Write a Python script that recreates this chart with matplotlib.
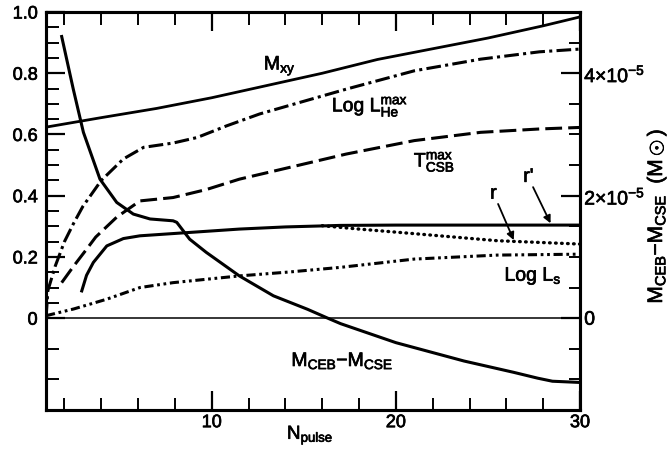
import numpy as np
import matplotlib
matplotlib.use('Agg')
import matplotlib.pyplot as plt
import matplotlib.patheffects as pe
from matplotlib.ticker import FixedLocator

plt.rcParams['font.family'] = ['Liberation Sans', 'DejaVu Sans']
plt.rcParams['mathtext.fontset'] = 'custom'
plt.rcParams['mathtext.rm'] = 'Liberation Sans'
plt.rcParams['mathtext.it'] = 'Liberation Sans:italic'
plt.rcParams['mathtext.bf'] = 'Liberation Sans:bold'

# ---- curves vs pulse number (left axis, normalised) ----
mxy_n = [1, 4, 7, 10, 13, 16, 19, 22, 25, 28, 30]
mxy = [0.624, 0.655, 0.685, 0.72, 0.76, 0.80, 0.845, 0.88, 0.915, 0.955, 0.984]

lhe_n = [1.0, 1.1, 1.5, 2.0, 2.5, 3.0, 4.0, 5.2, 6.3, 7.9, 9.2, 10.8, 12.6, 14.8,
         17.3, 21.0, 24.6, 27.8, 30.0]
lhe = [0.0, 0.09, 0.17, 0.25, 0.31, 0.365, 0.45, 0.52, 0.558, 0.572, 0.59, 0.628,
       0.667, 0.705, 0.748, 0.808, 0.846, 0.87, 0.879]

tcsb_n = [1.85, 2.5, 3.2, 3.7, 4.84, 6.1, 7.9, 9.7, 11.5, 13.7, 17.3, 21.0, 24.6,
          27.8, 30.0]
tcsb = [0.116, 0.17, 0.225, 0.265, 0.33, 0.383, 0.394, 0.42, 0.454, 0.485, 0.536,
        0.58, 0.607, 0.618, 0.623]

# r' (solid) and r (dotted, splits off near N=16)
rp_n = [2.94, 3.2, 3.57, 4.3, 5.2, 6.1, 8.8, 11.5, 14.0, 17.0, 20.0, 25.0, 30.0]
rp = [0.089, 0.14, 0.182, 0.236, 0.26, 0.269, 0.28, 0.291, 0.298, 0.303, 0.304,
      0.304, 0.304]
r_n = [16.0, 18.0, 21.0, 25.5, 30.0]
r = [0.302, 0.291, 0.276, 0.253, 0.242]

ls_n = [1.0, 2.5, 4.3, 6.1, 7.9, 9.7, 11.5, 14.25, 17.0, 21.0, 25.5, 30.0]
ls = [0.008, 0.03, 0.062, 0.10, 0.116, 0.127, 0.138, 0.151, 0.166, 0.193, 0.206, 0.209]

# M_CEB - M_CSE in units of 1e-5 Msun (right axis)
dm_n = [1.85, 2.48, 3.03, 3.93, 4.84, 5.74, 6.65, 7.9, 8.1, 8.8, 9.7, 11.5, 13.35,
        15.2, 16.3, 17.0, 20.0, 23.7, 26.4, 27.7, 28.5, 30.0]
dm = [4.6, 3.74, 3.035, 2.27, 1.89, 1.70, 1.62, 1.59, 1.565, 1.29, 1.075, 0.69,
      0.365, 0.145, 0.0, -0.09, -0.40, -0.70, -0.885, -0.98, -1.03, -1.05]

fig = plt.figure(figsize=(6.7, 4.52), dpi=100)
ax = fig.add_axes([0.0687, 0.0907, 0.797, 0.8805])
ax2 = ax.twinx()

# slightly heavier text strokes
heavy = [pe.withStroke(linewidth=0.5, foreground='k')]

lw = 2.2
ax.axhline(0, color='k', lw=1.1)
ax.plot(mxy_n, mxy, color='k', lw=2.0)
ax.plot(lhe_n, lhe, color='k', lw=lw, ls=(0, (4.8, 1.4, 1.0, 1.4)))
ax.plot(tcsb_n, tcsb, color='k', lw=lw, ls=(0, (5.5, 2.0)))
ax.plot(rp_n, rp, color='k', lw=lw)
ax.plot(r_n, r, color='k', lw=2.4, ls=(0, (0.2, 1.6)), dash_capstyle='round')
ax.plot(ls_n, ls, color='k', lw=lw, ls=(0, (3.0, 1.2, 0.9, 1.2, 0.9, 1.2)))
ax2.plot(dm_n, dm, color='k', lw=lw)

ax.set_xlim(1, 30)
ax.set_ylim(-0.3, 1.0)
ax2.set_ylim(-1.5, 5.0)

# ticks
ax.xaxis.set_major_locator(FixedLocator([10, 20, 30]))
ax.xaxis.set_minor_locator(FixedLocator([2, 4, 6, 8, 12, 14, 16, 18, 22, 24, 26, 28]))
ax.set_xticklabels(['10', '20', '30'])
ax.yaxis.set_major_locator(FixedLocator([0, 0.2, 0.4, 0.6, 0.8, 1.0]))
ax.set_yticklabels(['0', '0.2', '0.4', '0.6', '0.8', '1.0'])
ax.yaxis.set_minor_locator(FixedLocator([-0.2, -0.1] + list(np.arange(0.05, 1.0, 0.05))))

ax2.yaxis.set_major_locator(FixedLocator([0, 2, 4]))
ax2.set_yticklabels(['0', r'$2{\times}10^{-5}$', r'$4{\times}10^{-5}$'])
ax2.yaxis.set_minor_locator(FixedLocator(list(np.arange(-1.0, 5.0, 0.5))))

ax.tick_params(axis='both', which='major', direction='in', length=14, width=1.6,
               labelsize=13, top=True, right=False)
ax.tick_params(axis='both', which='minor', direction='in', length=9, width=1.4,
               top=True, right=False)
ax.tick_params(axis='x', which='major', pad=3)
ax.tick_params(axis='y', which='major', pad=6)
ax2.tick_params(axis='y', which='major', direction='in', length=14, width=1.6,
                labelsize=14, pad=3)
ax2.tick_params(axis='y', which='minor', direction='in', length=8, width=1.4)

for lab in ax.get_xticklabels() + ax.get_yticklabels() + ax2.get_yticklabels():
    lab.set_path_effects(heavy)

for sp in ax.spines.values():
    sp.set_linewidth(2.2)
for sp in ax2.spines.values():
    sp.set_linewidth(2.2)

fig.text(0.463, 0.035, r'$\mathrm{N_{pulse}}$', fontsize=13.5, ha='center',
         va='center', path_effects=heavy)
fig.text(0.98, 0.52, r'$\mathrm{M_{CEB}{-}M_{CSE}}$  $\mathrm{(M}\odot\mathrm{)}$',
         rotation=90, ha='center', va='center', fontsize=15, path_effects=heavy)

# curve labels
ax.text(13.7, 0.824, r'$\mathrm{M_{xy}}$', fontsize=14, ha='center', va='center',
        path_effects=heavy)
ax.text(18.6, 0.69, r'$\mathrm{Log\ L_{He}^{max}}$', fontsize=14, ha='center',
        va='center', path_effects=heavy)
ax.text(22.1, 0.51, r'$\mathrm{T_{CSB}^{max}}$', fontsize=14, ha='center', va='center',
        path_effects=heavy)
ax.text(27.45, 0.137, r'$\mathrm{Log\ L_{s}}$', fontsize=14, ha='center', va='center',
        path_effects=heavy)
ax.text(17.1, -0.14, r'$\mathrm{M_{CEB}{-}M_{CSE}}$', fontsize=14, ha='center',
        va='center', path_effects=heavy)

ax.text(25.3, 0.405, 'r', fontsize=14, ha='center', va='center', path_effects=heavy)
ax.text(27.2, 0.46, "r'", fontsize=14, ha='center', va='center', path_effects=heavy)
arrow = dict(arrowstyle='-|>', color='k', lw=1.3, mutation_scale=11, shrinkA=0, shrinkB=0)
ax.annotate('', xy=(26.4, 0.255), xytext=(25.55, 0.373), arrowprops=arrow)
ax.annotate('', xy=(28.4, 0.31), xytext=(27.45, 0.428), arrowprops=arrow)

fig.savefig('out.png', dpi=100)
